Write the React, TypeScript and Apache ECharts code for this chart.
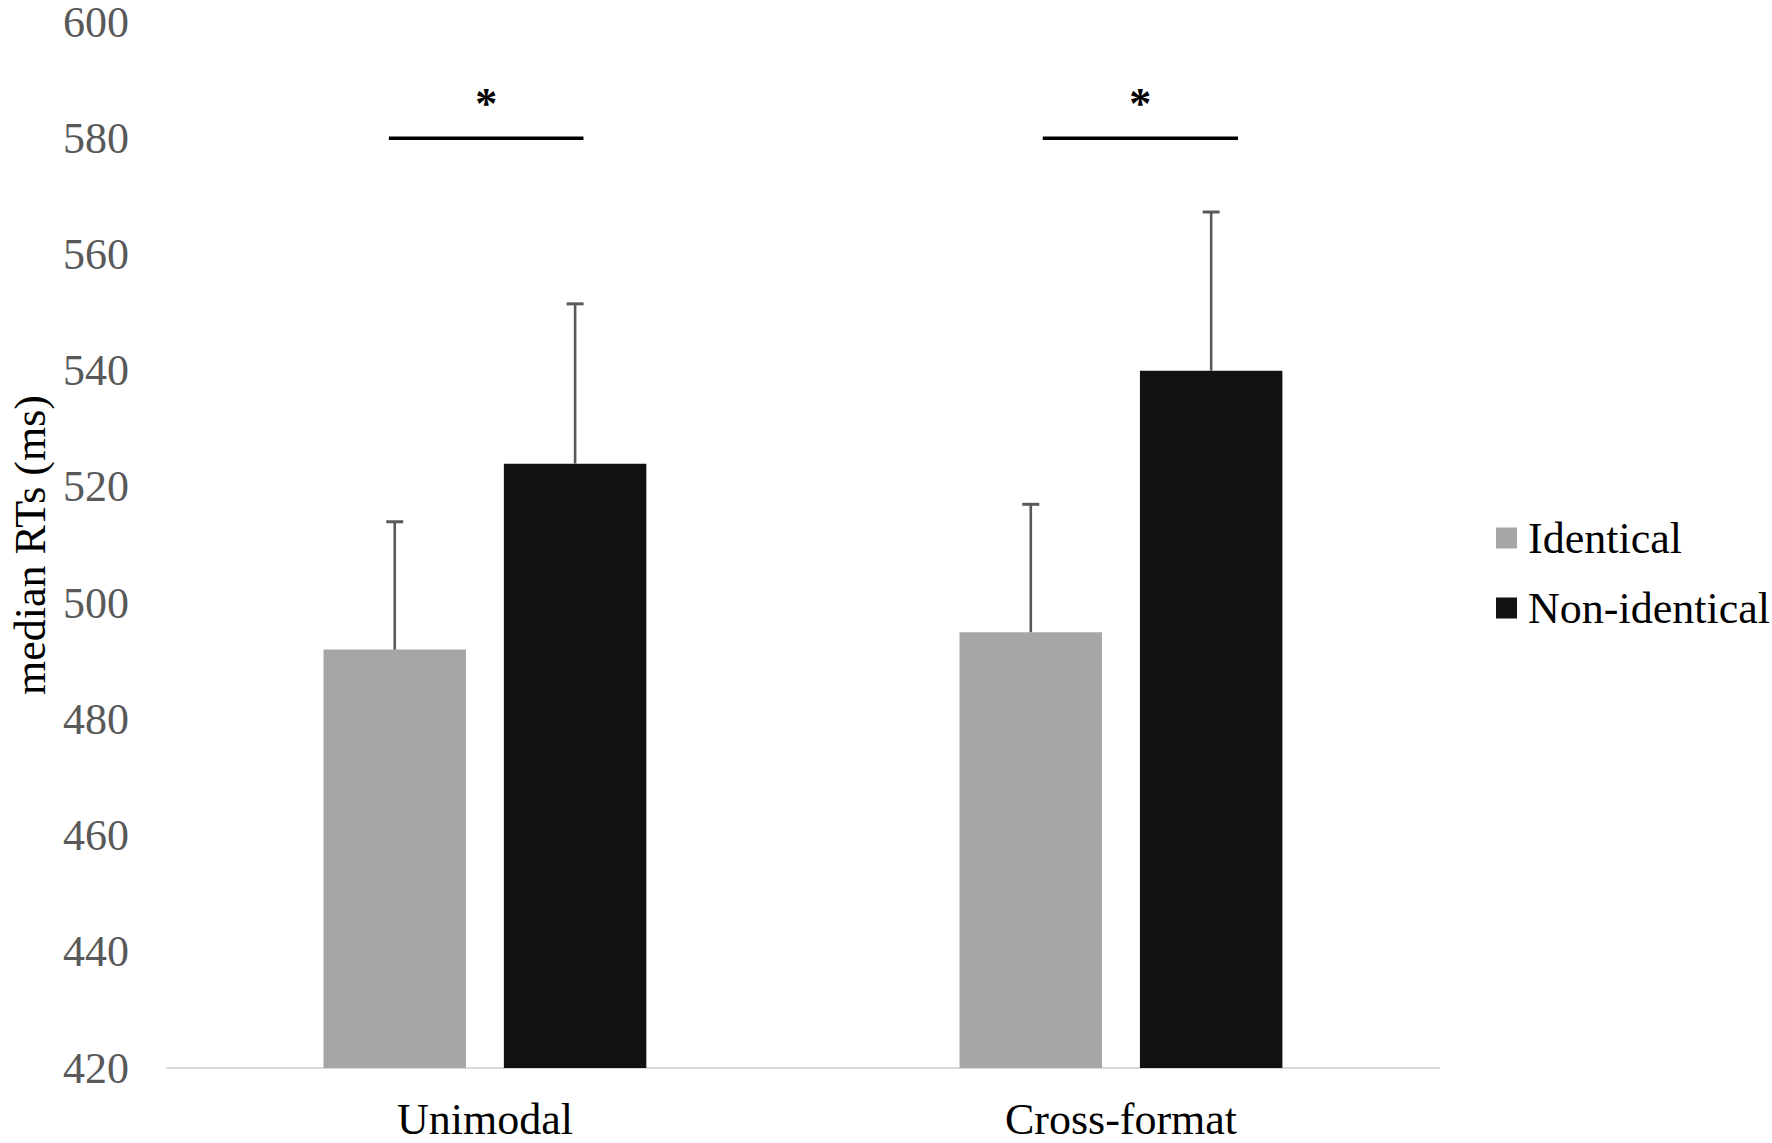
import React, { useEffect, useRef } from "react";
import * as echarts from "echarts";

const categories = ["Unimodal", "Cross-format"];
const seriesNames = ["Identical", "Non-identical"];
const identical = [492, 495];
const nonIdentical = [524, 540];
const identicalErr = [22, 22];
const nonIdenticalErr = [27.5, 27.3];
// significance brackets: [start x, end x, y] in category units (category i at x = i)
const sigStart = [-0.151, 0.877];
const sigEnd = [0.155, 1.184];
const sigLevel = [580, 580];
const sigLabel = ["*", "*"];
const yTicks = { min: 420, max: 600, interval: 20 };

const BAR_W = 0.224;
const BAR_GAP = 0.266;
const FONT = "'Liberation Serif', 'Times New Roman', serif";
const FS = 44;

export default function App() {
  const ref = useRef<HTMLDivElement>(null);
  useEffect(() => {
    document.body.style.margin = "0";
    if (!ref.current) return;
    const chart = echarts.init(ref.current, undefined, { renderer: "svg" });

    const errData: any[] = [];
    categories.forEach((_, i) => {
      errData.push([i, identical[i], identical[i] + identicalErr[i], 0]);
      errData.push([i, nonIdentical[i], nonIdentical[i] + nonIdenticalErr[i], 1]);
    });
    const sigData = sigStart.map((s, i) => [s, sigEnd[i], sigLevel[i], i]);

    const option: any = {
      animation: false,
      backgroundColor: "#ffffff",
      grid: { left: 162, right: 1772 - 1439, top: 22, bottom: 1143 - 1068, containLabel: false },
      legend: {
        orient: "vertical",
        left: 1491,
        top: 511,
        itemWidth: 21,
        itemHeight: 21,
        itemGap: 26,
        icon: "rect",
        data: seriesNames,
        textStyle: { fontFamily: FONT, fontSize: FS, color: "#000", padding: [0, 0, 0, 6] },
      },
      xAxis: [
        {
          type: "category",
          data: categories,
          axisTick: { show: false },
          axisLine: { lineStyle: { color: "#D9D9D9", width: 2 } },
          axisLabel: { fontFamily: FONT, fontSize: FS, lineHeight: 40, color: "#000", margin: 31 },
        },
        { type: "value", min: -0.5, max: 1.5, show: false },
      ],
      yAxis: {
        type: "value",
        min: yTicks.min,
        max: yTicks.max,
        interval: yTicks.interval,
        name: "median RTs (ms)",
        nameLocation: "middle",
        nameGap: 132,
        nameRotate: 90,
        nameTextStyle: { fontFamily: FONT, fontSize: FS, color: "#000", verticalAlign: "middle" },
        axisLine: { show: false },
        axisTick: { show: false },
        splitLine: { show: false },
        axisLabel: { fontFamily: FONT, fontSize: FS, lineHeight: 30, color: "#595959", margin: 38 },
      },
      series: [
        {
          name: seriesNames[0],
          type: "bar",
          data: identical,
          barWidth: BAR_W * 100 + "%",
          barGap: BAR_GAP * 100 + "%",
          itemStyle: { color: "#A6A6A6" },
        },
        {
          name: seriesNames[1],
          type: "bar",
          data: nonIdentical,
          barWidth: BAR_W * 100 + "%",
          barGap: BAR_GAP * 100 + "%",
          itemStyle: { color: "#111111" },
        },
        {
          type: "custom",
          xAxisIndex: 0,
          z: 10,
          silent: true,
          encode: { x: 0, y: [1, 2] },
          data: errData,
          renderItem: (params: any, api: any) => {
            const idx = api.value(0);
            const slot = api.value(3);
            const top = api.coord([idx, api.value(2)]);
            const base = api.coord([idx, api.value(1)]);
            const band = api.size([1, 0])[0];
            const bw = band * BAR_W;
            const gap = bw * BAR_GAP;
            const off = ((bw + gap) / 2) * (slot === 0 ? -1 : 1);
            const x = top[0] + off;
            const capHalf = 8.5;
            return {
              type: "group",
              children: [
                {
                  type: "line",
                  shape: { x1: x, y1: base[1], x2: x, y2: top[1] },
                  style: { stroke: "#595959", lineWidth: 2.6 },
                },
                {
                  type: "line",
                  shape: { x1: x - capHalf, y1: top[1], x2: x + capHalf, y2: top[1] },
                  style: { stroke: "#595959", lineWidth: 3 },
                },
              ],
            };
          },
        },
        {
          type: "custom",
          xAxisIndex: 1,
          z: 10,
          silent: true,
          encode: { x: [0, 1], y: 2 },
          data: sigData,
          renderItem: (params: any, api: any) => {
            const p1 = api.coord([api.value(0), api.value(2)]);
            const p2 = api.coord([api.value(1), api.value(2)]);
            const i = api.value(3);
            return {
              type: "group",
              children: [
                {
                  type: "line",
                  shape: { x1: p1[0], y1: p1[1], x2: p2[0], y2: p2[1] },
                  style: { stroke: "#000", lineWidth: 3.5 },
                },
                {
                  type: "text",
                  x: (p1[0] + p2[0]) / 2,
                  y: p1[1] - 35,
                  style: {
                    text: sigLabel[i],
                    fill: "#000",
                    fontFamily: FONT,
                    fontSize: 44,
                    fontWeight: "bold",
                    align: "center",
                    verticalAlign: "middle",
                  },
                },
              ],
            };
          },
        },
      ],
    };
    chart.setOption(option);
    return () => chart.dispose();
  }, []);
  return <div ref={ref} style={{ width: 1772, height: 1143 }} />;
}
